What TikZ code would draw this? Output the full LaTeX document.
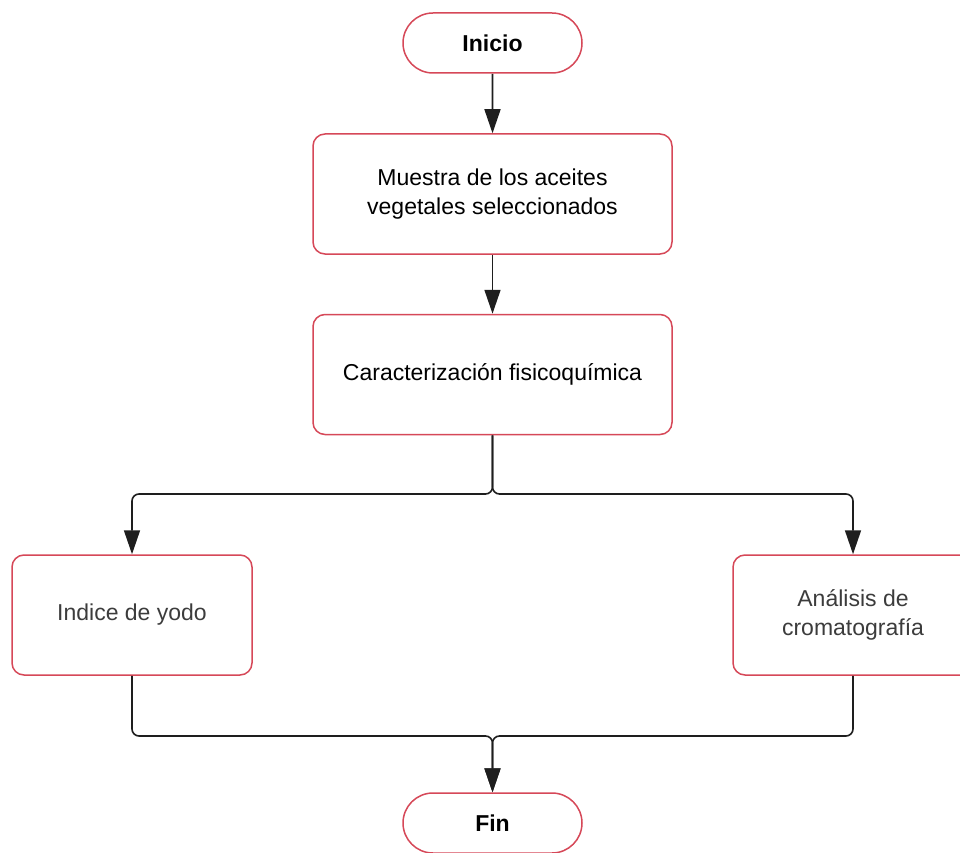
\documentclass[tikz,border=0pt]{standalone}
\usepackage{fontspec}
\setmainfont{Liberation Sans}
\usetikzlibrary{arrows.meta,shapes.misc}
\definecolor{redline}{RGB}{214,72,88}
\definecolor{conn}{RGB}{30,30,30}
\definecolor{sidetext}{RGB}{60,60,60}
\tikzset{
  term/.style={draw=redline, line width=1.5pt, rounded rectangle, minimum width=179pt, minimum height=60pt, font=\fontsize{23}{28}\selectfont\bfseries, inner sep=0pt},
  proc/.style={draw=redline, line width=1.5pt, rounded corners=12pt, minimum width=359pt, minimum height=120pt, font=\fontsize{23}{29}\selectfont, align=center, inner sep=0pt},
  side/.style={proc, minimum width=240pt, text=sidetext},
  conn/.style={draw=conn, line width=1.6pt, rounded corners=7pt, -{Triangle[length=24pt,width=16pt]}},
  link/.style={draw=conn, line width=1.6pt, rounded corners=7pt}
}
\begin{document}
\begin{tikzpicture}[x=1pt,y=-1pt]
\useasboundingbox (0,0) rectangle (960,853);
\fill[white] (0,0) rectangle (960,853);
\clip (0,0) rectangle (960,853);
\node[term] (inicio) at (492.5,43) {Inicio};
\node[proc] (muestra) at (492.5,194) {Muestra de los aceites\\vegetales seleccionados};
\node[proc] (carac) at (492.5,374.5) {Caracterización fisicoquímica};
\node[side] (yodo) at (132,615) {Indice de yodo};
\node[side] (croma) at (853,615) {Análisis de\\cromatografía};
\node[term] (fin) at (492.5,823) {Fin};
\coordinate (split) at (492.5,494);
\coordinate (merge) at (492.5,736);
\draw[conn] (inicio) -- (muestra);
\draw[conn] (muestra) -- (carac);
\draw[conn] (carac.south) -- (split) -| (yodo.north);
\draw[conn] (carac.south) -- (split) -| (croma.north);
\draw[conn] (yodo.south) |- (merge) -- (fin.north);
\draw[conn] (croma.south) |- (merge) -- (fin.north);
\end{tikzpicture}
\end{document}
